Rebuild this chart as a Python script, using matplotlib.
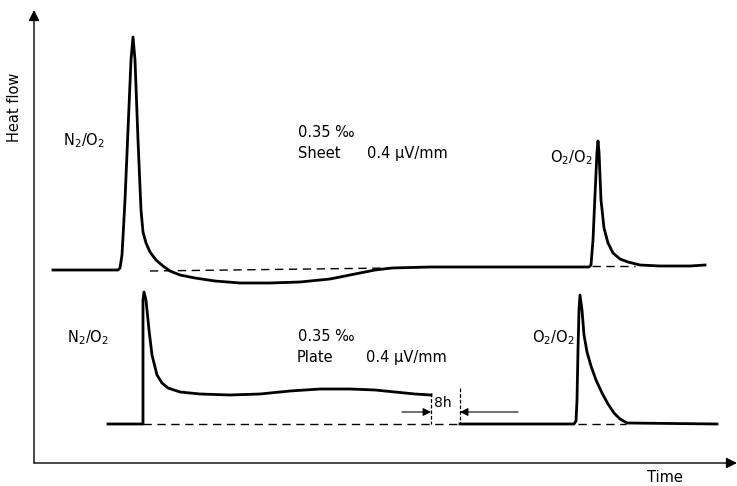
"""Heat flow vs time: N2/O2 and O2/O2 switching on sheet and plate (schematic)."""
import matplotlib

matplotlib.use("Agg")
import matplotlib.pyplot as plt

# traces (x = time, y = heat flow, screen units, y down)
sheet_t = [53, 118, 120, 122, 125, 128, 131, 133, 135, 138, 141, 143, 146, 150,
           156, 163, 170, 180, 195, 215, 240, 270, 300, 330, 355, 375, 392, 430,
           500, 560, 589, 591, 593, 595, 597, 598, 599, 601, 604, 608, 613, 620,
           628, 640, 660, 690, 705]
sheet_q = [270, 270, 268, 255, 200, 130, 60, 37, 60, 140, 210, 232, 243, 252,
           260, 266, 271, 275, 278, 281, 283, 283, 282, 279, 274, 270, 268, 267,
           267, 267, 267, 265, 240, 195, 152, 141, 152, 200, 228, 243, 253, 259,
           262, 265, 266, 266, 265]

plate_t1 = [108, 143, 143, 144, 146, 149, 152, 157, 162, 168, 180, 200, 230,
            260, 290, 320, 350, 375, 395, 415, 431]
plate_q1 = [424, 424, 300, 292, 300, 330, 355, 375, 383, 388, 392, 394, 395,
            394, 391, 389, 389, 390, 392, 394, 395]

plate_t2 = [460, 574, 576, 577, 578, 579, 580, 582, 584, 587, 591, 596, 602,
            608, 614, 620, 627, 717]
plate_q2 = [424, 424, 421, 400, 350, 310, 295, 310, 335, 352, 366, 380, 393,
            404, 413, 419, 423, 424]

# baselines (dashed)
sheet_base1_t = [150, 390]
sheet_base1_q = [271, 268]
sheet_base2_t = [592, 635]
sheet_base2_q = [266, 266]
plate_base1_t = [143, 460]
plate_base1_q = [424, 424]
plate_base2_t = [578, 626]
plate_base2_q = [424, 424]

fig = plt.figure(figsize=(7.37, 4.86), dpi=100)
ax = fig.add_axes([0, 0, 1, 1])
ax.set_xlim(0, 737)
ax.set_ylim(486, 0)
ax.axis("off")

# axes with arrows
arr = dict(arrowstyle="-|>", lw=1.0, color="black", mutation_scale=16,
           shrinkA=0, shrinkB=0)
ax.annotate("", xy=(34, 10), xytext=(34, 463), arrowprops=arr)
ax.annotate("", xy=(737, 463), xytext=(34, 463), arrowprops=arr)

lw = 2.0
ax.plot(sheet_t, sheet_q, color="black", lw=lw, solid_joinstyle="round")
ax.plot(plate_t1, plate_q1, color="black", lw=lw, solid_joinstyle="round")
ax.plot(plate_t2, plate_q2, color="black", lw=lw, solid_joinstyle="round")

for bt, bq in [(sheet_base1_t, sheet_base1_q), (sheet_base2_t, sheet_base2_q),
               (plate_base1_t, plate_base1_q), (plate_base2_t, plate_base2_q)]:
    ax.plot(bt, bq, color="black", lw=1.0, ls=(0, (6, 4)))

# 8 h gap marker
ax.plot([431, 431], [393, 424], color="black", lw=0.9, ls=(0, (3, 1.5)))
ax.plot([460, 460], [388, 424], color="black", lw=0.9, ls=(0, (3, 1.5)))
small = dict(arrowstyle="-|>", lw=0.8, color="black", mutation_scale=12,
             shrinkA=0, shrinkB=0)
ax.annotate("", xy=(431, 412), xytext=(402, 412), arrowprops=small)
ax.annotate("", xy=(460, 412), xytext=(518, 412), arrowprops=small)
ax.text(434, 403, "8h", fontsize=10, va="center", ha="left")

fs = 10.5
ax.text(15, 107, "Heat flow", rotation=90, fontsize=fs, va="center", ha="center")
ax.text(647, 477, "Time", fontsize=fs, va="center", ha="left")

ax.text(63, 141, r"N$_2$/O$_2$", fontsize=fs, va="center", ha="left")
ax.text(298, 132, "0.35 ‰", fontsize=fs, va="center", ha="left")
ax.text(298, 153, "Sheet", fontsize=fs, va="center", ha="left")
ax.text(367, 153, "0.4 μV/mm", fontsize=fs, va="center", ha="left")
ax.text(550, 158, r"O$_2$/O$_2$", fontsize=fs, va="center", ha="left")

ax.text(67, 338, r"N$_2$/O$_2$", fontsize=fs, va="center", ha="left")
ax.text(298, 336, "0.35 ‰", fontsize=fs, va="center", ha="left")
ax.text(297, 357, "Plate", fontsize=fs, va="center", ha="left")
ax.text(366, 357, "0.4 μV/mm", fontsize=fs, va="center", ha="left")
ax.text(532, 338, r"O$_2$/O$_2$", fontsize=fs, va="center", ha="left")

fig.savefig("out.png", dpi=100)
